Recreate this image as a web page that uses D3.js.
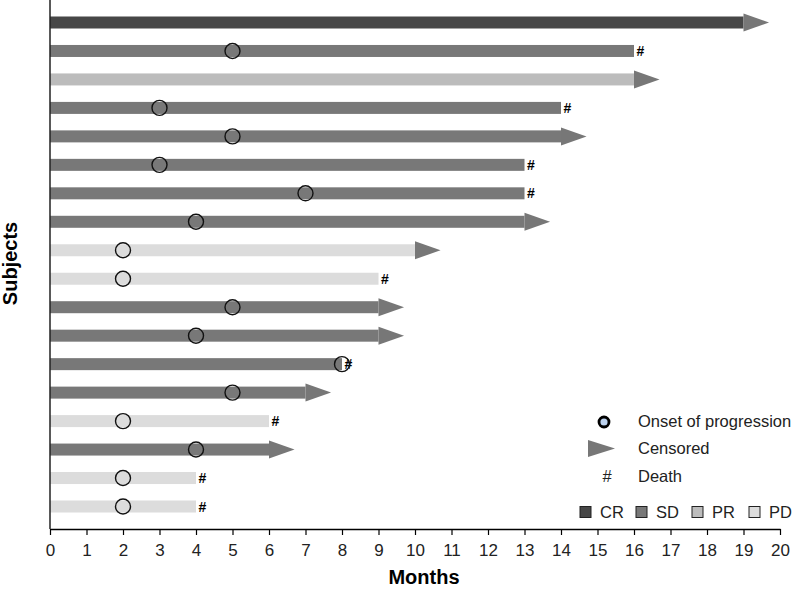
<!DOCTYPE html>
<html><head><meta charset="utf-8">
<script src="https://cdn.jsdelivr.net/npm/d3@7"></script>
<style>body{margin:0;background:#fff}svg{display:block;font-family:"Liberation Sans",Arial,sans-serif}</style>
</head><body><svg id="c" width="800" height="589"></svg>
<script>
const subjects = d3.range(1, 19);
const response = ["CR","SD","PR","SD","SD","SD","SD","SD","PD","PD","SD","SD","SD","SD","PD","SD","PD","PD"];
const duration = [19,16,16,14,14,13,13,13,10,9,9,9,8,7,6,6,4,4];
const progression = [null,5,null,3,5,3,7,4,2,2,5,4,8,5,2,4,2,2];
const outcome = ["C","D","C","D","C","D","D","C","C","D","C","C","D","C","D","C","D","D"];
const responseTypes = ["CR","SD","PR","PD"];
const responseColors = ["#474747","#787878","#bcbcbc","#dcdcdc"];
const xTicks = d3.range(0, 21);

const svg = d3.select("#c");
const x = d3.scaleLinear().domain([0, 20]).range([50, 780]);
const y = d3.scalePoint().domain(subjects).range([22.5, 506.5]);
const color = d3.scaleOrdinal().domain(responseTypes).range(responseColors);
const barH = 12, arrowLen = 0.7, arrowH = 18;

const rows = subjects.map((s, i) => ({s, r: response[i], d: duration[i], p: progression[i], o: outcome[i]}));

// bars
svg.append("g").selectAll("rect").data(rows).join("rect")
  .attr("x", x(0)).attr("y", d => y(d.s) - barH/2)
  .attr("width", d => x(d.d) - x(0)).attr("height", barH)
  .attr("fill", d => color(d.r));

// censored arrows
svg.append("g").selectAll("path").data(rows.filter(d => d.o === "C")).join("path")
  .attr("d", d => `M${x(d.d)},${y(d.s)-arrowH/2}L${x(d.d+arrowLen)},${y(d.s)}L${x(d.d)},${y(d.s)+arrowH/2}Z`)
  .attr("fill", "#777");

// deaths
svg.append("g").selectAll("text").data(rows.filter(d => d.o === "D")).join("text")
  .attr("x", d => x(d.d) + 2.5).attr("y", d => y(d.s)).attr("dy", "0.36em")
  .attr("font-size", 14).attr("font-weight", "bold").attr("fill", "#000").text("#");

// progression
svg.append("g").selectAll("circle").data(rows.filter(d => d.p != null)).join("circle")
  .attr("cx", d => x(d.p)).attr("cy", d => y(d.s)).attr("r", 7.5)
  .attr("fill", "none").attr("stroke", "#111").attr("stroke-width", 1.4);

// axes
const xa = svg.append("g").attr("transform", "translate(0,529)")
  .call(d3.axisBottom(x).tickValues(xTicks).tickFormat(d3.format("d")).tickSize(6).tickSizeOuter(0));
xa.select(".domain").attr("stroke", "#000").attr("stroke-width", 1.5);
xa.selectAll(".tick line").attr("stroke", "#000").attr("stroke-width", 1.2);
xa.selectAll(".tick text").attr("font-size", 17).attr("font-family", "Liberation Sans, Arial, sans-serif")
  .attr("fill", "#222").attr("y", 15).attr("dy", "0.71em");

svg.append("line").attr("x1", 50).attr("x2", 50).attr("y1", 0).attr("y2", 529)
  .attr("stroke", "#222").attr("stroke-width", 1.5);

svg.append("text").attr("x", 424).attr("y", 584).attr("text-anchor", "middle")
  .attr("font-size", 20).attr("font-weight", "bold").text("Months");
svg.append("text").attr("transform", "translate(17,263.5) rotate(-90)").attr("text-anchor", "middle")
  .attr("font-size", 20).attr("font-weight", "bold").text("Subjects");

// legend symbols
const lg = svg.append("g").attr("font-size", 16.5).attr("fill", "#222");
lg.append("circle").attr("cx", 604).attr("cy", 422).attr("r", 5).attr("fill", "#bcd2ee")
  .attr("stroke", "#000").attr("stroke-width", 2.8);
lg.append("text").attr("x", 638).attr("y", 421).attr("dy", "0.36em").text("Onset of progression");
lg.append("path").attr("d", "M588,440L615,448.5L588,457Z").attr("fill", "#777");
lg.append("text").attr("x", 638).attr("y", 448).attr("dy", "0.36em").text("Censored");
lg.append("text").attr("x", 607).attr("y", 476).attr("dy", "0.36em").attr("text-anchor", "middle").text("#");
lg.append("text").attr("x", 638).attr("y", 476).attr("dy", "0.36em").text("Death");

const legX = [580, 636, 692, 749];
responseTypes.forEach((t, i) => {
  lg.append("rect").attr("x", legX[i]).attr("y", 506.5).attr("width", 11).attr("height", 11)
    .attr("fill", color(t)).attr("stroke", "#222").attr("stroke-width", 1);
  lg.append("text").attr("x", legX[i] + 20).attr("y", 512).attr("dy", "0.36em").text(t);
});
</script></body></html>
